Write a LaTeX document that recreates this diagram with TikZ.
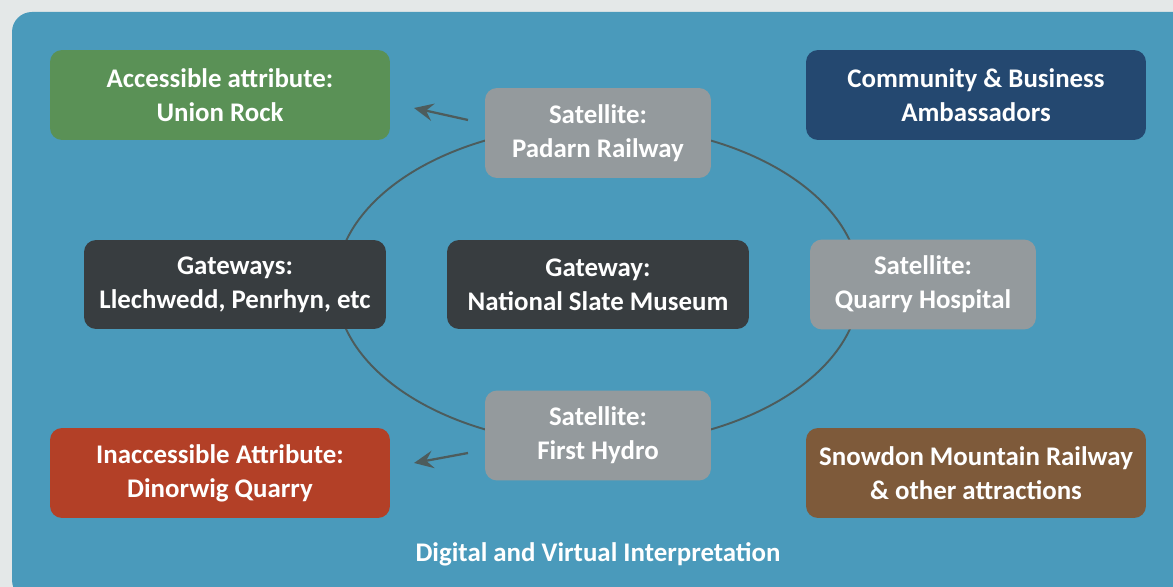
\documentclass[tikz,border=0pt]{standalone}
\usepackage{fontspec}
\setmainfont{Carlito}
\usepackage{tikz}
\usetikzlibrary{arrows.meta}

\definecolor{pagegray}{HTML}{E4E8E8}
\definecolor{panelblue}{HTML}{4A9ABB}
\definecolor{attrgreen}{HTML}{5A9156}
\definecolor{ambnavy}{HTML}{244870}
\definecolor{attrred}{HTML}{B34027}
\definecolor{attrbrown}{HTML}{7E5A3A}
\definecolor{gatedark}{HTML}{383D40}
\definecolor{satgray}{HTML}{949A9D}
\definecolor{ringline}{HTML}{4D5C5C}

\tikzset{
  box/.style = {rounded corners=0.24cm, text=white, align=center,
    font=\bfseries\fontsize{15.3}{19.3}\selectfont, inner sep=0pt},
  wide/.style = {box, minimum width=6.8cm, minimum height=1.8cm},
  gate/.style = {box, fill=gatedark, minimum width=6.04cm, minimum height=1.78cm},
  sat/.style = {box, fill=satgray, minimum width=4.52cm, minimum height=1.8cm},
  ring/.style = {ringline, line width=1.1pt},
  pointer/.style = {ringline, line width=1.3pt, -{Stealth[length=11pt,width=10pt,inset=4pt]}}
}

\begin{document}
\begin{tikzpicture}[x=0.02cm, y=-0.02cm]
\clip (0,0) rectangle (1173,587);
\fill[pagegray] (0,0) rectangle (1173,587);
\fill[panelblue, rounded corners=0.4cm] (12,12) rectangle (1200,600);

% ring behind the satellites
\draw[ring] (598,285) ellipse [x radius=262, y radius=160];

% attributes and partners
\node[wide, fill=attrgreen] (access) at (220,95) {Accessible attribute:\\Union Rock};
\node[wide, fill=ambnavy] (ambass) at (976,95) {Community \& Business\\Ambassadors};
\node[wide, fill=attrred] (inaccess) at (220,473) {Inaccessible Attribute:\\Dinorwig Quarry};
\node[wide, fill=attrbrown] (snowdon) at (976,473) {Snowdon Mountain Railway\\\& other attractions};

% gateways
\node[gate] (gateways) at (235,284.5) {Gateways:\\Llechwedd, Penrhyn, etc};
\node[gate] (museum) at (598,284.5) {Gateway:\\National Slate Museum};

% satellites
\node[sat] (padarn) at (598,133) {Satellite:\\Padarn Railway};
\node[sat] (hospital) at (923,284.5) {Satellite:\\Quarry Hospital};
\node[sat] (hydro) at (598,435.5) {Satellite:\\First Hydro};

% pointers
\coordinate (padtail) at (468,120);
\coordinate (acctip) at (414,108);
\coordinate (hydtail) at (468,453);
\coordinate (inacctip) at (414,463);
\draw[pointer] (padtail) -- (acctip);
\draw[pointer] (hydtail) -- (inacctip);

\node[text=white, font=\bfseries\fontsize{15.3}{18}\selectfont] (digital) at (598,554) {Digital and Virtual Interpretation};
\end{tikzpicture}
\end{document}
